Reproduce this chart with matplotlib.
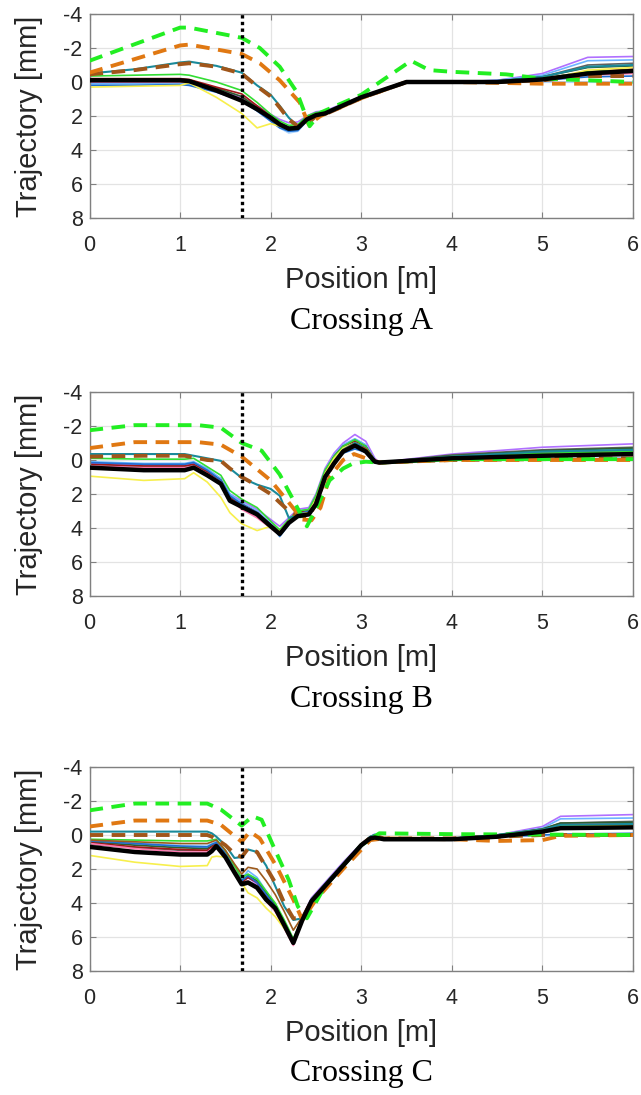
import numpy as np
import matplotlib
matplotlib.use("Agg")
import matplotlib.pyplot as plt

# Crossing A data (position in m, trajectory in mm).
x_a          = [0, 0.5, 1.0, 1.1, 1.4, 1.68, 1.85, 2.0, 2.1, 2.2, 2.3, 2.4, 2.5, 2.6, 3.0, 3.5, 4.0, 4.5, 5.0, 5.5, 6.0]
black_a      = [-0.1, -0.1, -0.1, -0.05, 0.5, 1.1, 1.6, 2.1, 2.5, 2.75, 2.7, 2.2, 1.95, 1.85, 0.9, 0.0, 0.0, 0.0, -0.15, -0.5, -0.65]
purple_a     = [0.0, 0.0, -0.05, 0.0, 0.4, 0.9, 1.4, 1.9, 2.2, 2.4, 2.35, 2.0, 1.75, 1.7, 0.85, 0.0, 0.0, -0.1, -0.5, -1.45, -1.5]
lightblue_a  = [0.1, 0.1, 0.05, 0.1, 0.5, 1.0, 1.6, 2.2, 2.6, 2.9, 2.85, 2.2, 1.9, 1.8, 0.9, 0.0, 0.0, -0.1, -0.4, -1.25, -1.3]
gray_a       = [-0.05, -0.05, -0.1, -0.05, 0.45, 1.0, 1.5, 2.0, 2.4, 2.65, 2.6, 2.1, 1.85, 1.8, 0.9, 0.0, 0.0, -0.05, -0.3, -1.0, -1.1]
green_a      = [-0.35, -0.4, -0.45, -0.4, 0.0, 0.5, 1.2, 1.9, 2.3, 2.55, 2.5, 2.0, 1.8, 1.75, 0.9, 0.0, 0.0, -0.05, -0.2, -0.6, -0.7]
pink_a       = [0.0, 0.0, 0.0, 0.05, 0.5, 1.0, 1.6, 2.2, 2.5, 2.8, 2.7, 2.2, 1.9, 1.85, 0.9, 0.0, 0.0, 0.0, -0.15, -0.4, -0.5]
darkred_a    = [-0.2, -0.2, -0.2, -0.15, 0.3, 0.7, 1.4, 2.0, 2.4, 2.7, 2.65, 2.1, 1.85, 1.8, 0.9, 0.0, 0.0, -0.05, -0.2, -0.6, -0.75]
darkgreen_a  = [-0.1, -0.1, -0.15, -0.1, 0.35, 0.85, 1.5, 2.1, 2.45, 2.7, 2.6, 2.1, 1.9, 1.85, 0.9, 0.0, 0.0, -0.05, -0.3, -0.85, -0.95]
blue_a       = [0.2, 0.2, 0.15, 0.2, 0.6, 1.1, 1.7, 2.3, 2.7, 2.9, 2.85, 2.3, 1.95, 1.85, 0.9, 0.0, 0.0, 0.0, -0.1, -0.3, -0.35]
paleblue_a   = [0.15, 0.15, 0.1, 0.15, 0.55, 1.1, 1.7, 2.3, 2.7, 3.0, 2.9, 2.3, 1.95, 1.85, 0.9, 0.0, 0.0, 0.0, 0.0, 0.0, 0.0]
yellow_a     = [0.3, 0.25, 0.2, 0.05, 0.9, 1.85, 2.7, 2.45, 2.6, 2.75, 2.7, 2.2, 1.95, 1.85, 0.9, 0.0, 0.0, 0.0, -0.1, -0.7, -0.85]
teal_a       = [-0.5, -0.75, -1.15, -1.2, -0.95, -0.55, 0.2, 0.75, 1.4, 2.1, 2.6, 2.3, 1.95, 1.85, 0.9, 0.0, 0.0, -0.05, -0.3, -0.9, -1.0]
brown_a      = [-0.45, -0.7, -1.05, -1.1, -0.9, -0.5, 0.25, 0.85, 1.5, 2.2, 2.6, 2.5, 2.0, 1.9, 0.95, 0.0, 0.0, 0.0, -0.1, -0.35, -0.35]
x_orange_a   = [0, 1.0, 1.1, 1.68, 1.88, 2.1, 2.32, 2.42, 2.55, 3.0, 3.5, 4.0, 5.0, 6.0]
orange_a     = [-0.55, -2.15, -2.2, -1.65, -1.1, -0.1, 1.2, 2.5, 2.0, 0.95, 0.0, 0.0, 0.1, 0.1]
x_lime_a     = [0, 1.0, 1.1, 1.68, 1.88, 2.1, 2.29, 2.43, 2.55, 3.0, 3.55, 3.75, 4.0, 4.6, 5.0, 6.0]
lime_a       = [-1.25, -3.2, -3.2, -2.6, -2.0, -0.9, 0.6, 2.6, 1.8, 0.75, -1.25, -0.7, -0.6, -0.45, -0.2, 0.0]

# Crossing B data.
x_b          = [0, 0.6, 1.05, 1.15, 1.3, 1.45, 1.55, 1.68, 1.85, 2.0, 2.1, 2.2, 2.3, 2.42, 2.5, 2.6, 2.7, 2.8, 2.93, 3.05, 3.15, 3.2, 4.0, 5.0, 6.0]
black_b      = [0.45, 0.6, 0.6, 0.45, 0.9, 1.4, 2.4, 2.75, 3.2, 3.9, 4.35, 3.7, 3.3, 3.2, 2.6, 1.0, 0.2, -0.5, -0.85, -0.5, 0.1, 0.15, -0.1, -0.25, -0.35]
purple_b     = [0.2, 0.3, 0.3, 0.2, 0.6, 1.1, 2.0, 2.4, 2.9, 3.5, 3.9, 3.4, 2.9, 2.8, 2.0, 0.5, -0.4, -1.0, -1.5, -1.1, -0.1, 0.15, -0.35, -0.75, -0.95]
lightblue_b  = [0.1, 0.2, 0.2, 0.1, 0.5, 1.1, 2.0, 2.5, 3.0, 3.7, 4.2, 3.6, 3.0, 2.9, 2.1, 0.6, -0.3, -0.9, -1.25, -0.9, 0.0, 0.15, -0.2, -0.45, -0.55]
gray_b       = [0.3, 0.4, 0.4, 0.3, 0.7, 1.2, 2.2, 2.6, 3.1, 3.8, 4.2, 3.6, 3.1, 3.0, 2.2, 0.7, -0.2, -0.8, -1.15, -0.8, 0.05, 0.15, -0.3, -0.6, -0.75]
green_b      = [-0.1, -0.05, -0.05, -0.1, 0.4, 0.9, 1.8, 2.3, 2.8, 3.6, 4.1, 3.5, 3.0, 2.9, 2.1, 0.6, -0.2, -0.8, -1.2, -0.8, 0.05, 0.15, -0.2, -0.4, -0.5]
pink_b       = [0.35, 0.45, 0.45, 0.35, 0.8, 1.3, 2.3, 2.9, 3.4, 4.0, 4.4, 3.7, 3.2, 3.1, 2.3, 0.8, -0.1, -0.7, -1.0, -0.7, 0.1, 0.15, -0.15, -0.3, -0.4]
darkred_b    = [0.25, 0.35, 0.35, 0.25, 0.7, 1.2, 2.2, 2.6, 3.1, 3.8, 4.3, 3.6, 3.1, 3.0, 2.2, 0.7, -0.2, -0.8, -1.1, -0.75, 0.05, 0.15, -0.2, -0.4, -0.5]
darkgreen_b  = [0.3, 0.4, 0.4, 0.3, 0.7, 1.2, 2.2, 2.6, 3.1, 3.8, 4.3, 3.6, 3.1, 3.0, 2.2, 0.7, -0.2, -0.8, -1.1, -0.8, 0.05, 0.15, -0.25, -0.55, -0.7]
blue_b       = [0.15, 0.25, 0.25, 0.15, 0.6, 1.2, 2.1, 2.6, 3.1, 3.8, 4.5, 3.8, 3.2, 3.0, 2.3, 0.9, 0.1, -0.4, -0.65, -0.45, 0.1, 0.15, 0.0, -0.05, -0.1]
paleblue_b   = [0.2, 0.3, 0.3, 0.2, 0.6, 1.2, 2.1, 2.6, 3.1, 3.8, 4.4, 3.7, 3.1, 3.0, 2.2, 0.7, -0.2, -0.7, -1.0, -0.7, 0.1, 0.15, 0.0, 0.0, -0.05]
yellow_b     = [0.95, 1.2, 1.1, 0.75, 1.3, 2.2, 3.1, 3.75, 4.15, 3.9, 4.2, 3.6, 3.2, 3.1, 2.3, 0.8, -0.1, -0.7, -1.0, -0.7, 0.05, 0.15, -0.15, -0.3, -0.4]
teal_b       = [-0.35, -0.35, -0.35, -0.25, -0.1, 0.05, 0.5, 1.05, 1.45, 1.7, 2.1, 3.4, 3.3, 3.2, 2.5, 1.0, 0.1, -0.6, -1.0, -0.7, 0.1, 0.15, -0.2, -0.5, -0.6]
brown_b      = [-0.2, -0.25, -0.25, -0.15, 0.0, 0.05, 0.5, 1.0, 1.5, 2.0, 2.5, 3.0, 3.3, 3.3, 2.6, 1.1, 0.2, -0.5, -0.9, -0.6, 0.1, 0.15, 0.0, -0.05, -0.1]
x_orange_b   = [0, 0.5, 1.2, 1.45, 1.68, 2.0, 2.2, 2.35, 2.45, 2.55, 2.65, 2.8, 2.92, 3.05, 3.2, 4.0, 6.0]
orange_b     = [-0.7, -1.05, -1.05, -0.9, -0.2, 1.2, 2.5, 3.5, 3.55, 2.8, 1.0, 0.0, -0.35, -0.1, 0.15, 0.0, 0.0]
x_lime_b     = [0, 0.5, 1.2, 1.45, 1.68, 1.9, 2.1, 2.25, 2.4, 2.51, 2.65, 2.8, 2.91, 3.05, 3.2, 4.0, 6.0]
lime_b       = [-1.75, -2.05, -2.05, -1.9, -1.0, -0.55, 0.85, 2.35, 3.9, 2.75, 1.2, 0.5, 0.2, 0.1, 0.15, -0.05, -0.05]

# Crossing C data.
x_c          = [0, 0.5, 1.0, 1.3, 1.35, 1.4, 1.5, 1.6, 1.68, 1.75, 1.85, 1.95, 2.05, 2.15, 2.25, 2.35, 2.45, 2.6, 2.8, 3.0, 3.1, 3.15, 3.25, 4.0, 4.5, 5.0, 5.2, 6.0]
black_c      = [0.7, 1.0, 1.15, 1.15, 0.95, 0.65, 1.3, 2.2, 2.9, 2.8, 3.1, 3.8, 4.3, 5.3, 6.35, 5.0, 3.9, 3.0, 1.8, 0.6, 0.2, 0.15, 0.25, 0.25, 0.1, -0.2, -0.4, -0.45]
purple_c     = [0.3, 0.5, 0.7, 0.75, 0.6, 0.45, 1.1, 2.0, 2.7, 2.5, 2.9, 3.6, 4.2, 5.2, 6.2, 4.8, 3.7, 2.8, 1.6, 0.5, 0.1, -0.05, 0.2, 0.2, 0.0, -0.5, -1.1, -1.2]
lightblue_c  = [0.4, 0.55, 0.7, 0.7, 0.55, 0.4, 1.0, 1.9, 2.6, 2.1, 2.5, 3.3, 4.1, 5.1, 6.2, 4.9, 3.8, 2.9, 1.7, 0.55, 0.1, -0.05, 0.2, 0.2, 0.0, -0.4, -0.95, -1.0]
gray_c       = [0.55, 0.75, 0.9, 0.9, 0.7, 0.55, 1.2, 2.1, 2.8, 2.7, 3.0, 3.6, 4.2, 5.2, 6.3, 5.0, 3.9, 3.0, 1.8, 0.6, 0.15, 0.05, 0.25, 0.2, 0.0, -0.35, -0.7, -0.8]
green_c      = [0.25, 0.3, 0.35, 0.35, 0.3, 0.25, 0.9, 1.8, 2.5, 2.3, 2.6, 3.3, 4.0, 5.0, 6.1, 4.9, 3.8, 2.9, 1.7, 0.55, 0.1, 0.0, 0.2, 0.2, 0.0, -0.3, -0.55, -0.6]
pink_c       = [0.5, 0.8, 1.0, 1.0, 0.8, 0.6, 1.3, 2.2, 2.9, 2.7, 3.2, 3.9, 4.5, 5.5, 6.5, 5.0, 3.9, 3.0, 1.8, 0.6, 0.15, 0.05, 0.25, 0.25, 0.05, -0.2, -0.5, -0.55]
darkred_c    = [0.45, 0.7, 0.85, 0.9, 0.7, 0.5, 1.2, 2.1, 2.8, 2.5, 2.8, 3.6, 4.3, 5.3, 6.3, 5.0, 3.9, 3.0, 1.8, 0.6, 0.15, 0.05, 0.25, 0.25, 0.05, -0.25, -0.6, -0.65]
darkgreen_c  = [0.4, 0.6, 0.75, 0.8, 0.65, 0.5, 1.1, 2.0, 2.7, 2.4, 2.7, 3.4, 4.1, 5.1, 6.2, 4.9, 3.8, 2.9, 1.7, 0.55, 0.1, 0.0, 0.2, 0.2, 0.0, -0.35, -0.7, -0.75]
blue_c       = [0.35, 0.5, 0.65, 0.7, 0.55, 0.45, 1.1, 2.0, 2.7, 2.4, 2.8, 3.5, 4.2, 5.2, 6.3, 5.0, 3.9, 3.0, 1.8, 0.6, 0.15, 0.05, 0.25, 0.25, 0.1, 0.0, -0.05, -0.1]
paleblue_c   = [0.3, 0.45, 0.6, 0.6, 0.5, 0.4, 1.0, 1.9, 2.6, 2.3, 2.7, 3.4, 4.1, 5.1, 6.2, 4.9, 3.8, 2.9, 1.7, 0.55, 0.1, 0.0, 0.2, 0.2, 0.1, 0.05, 0.0, 0.0]
brownthin_c  = [0.3, 0.4, 0.5, 0.5, 0.4, 0.3, 0.9, 1.7, 2.3, 1.9, 2.0, 2.7, 3.5, 4.5, 5.6, 4.8, 3.8, 2.9, 1.7, 0.55, 0.1, 0.0, 0.2, 0.2, 0.05, -0.2, -0.4, -0.45]
yellow_c     = [1.2, 1.6, 1.85, 1.8, 1.3, 1.25, 1.3, 2.0, 2.8, 3.4, 3.7, 4.3, 4.8, 5.5, 6.2, 5.0, 3.9, 3.0, 1.8, 0.6, 0.15, 0.05, 0.25, 0.25, 0.1, -0.2, -0.5, -0.55]
teal_c       = [-0.2, -0.2, -0.2, -0.2, -0.1, 0.1, 0.6, 1.35, 1.3, 0.85, 1.0, 1.8, 3.0, 4.2, 5.0, 4.9, 3.8, 2.9, 1.7, 0.55, 0.1, 0.0, 0.2, 0.2, 0.0, -0.3, -0.6, -0.65]
brown_c      = [0.0, 0.0, 0.0, 0.0, 0.1, 0.25, 0.6, 1.1, 1.3, 0.8, 1.0, 1.9, 2.8, 4.0, 4.9, 4.9, 3.9, 3.0, 1.8, 0.6, 0.15, 0.05, 0.2, 0.2, 0.1, 0.0, 0.0, 0.0]
x_orange_c   = [0, 0.5, 1.3, 1.45, 1.68, 1.77, 1.88, 2.07, 2.25, 2.35, 2.5, 2.8, 3.1, 3.25, 4.0, 4.5, 5.0, 5.2, 6.0]
orange_c     = [-0.5, -0.85, -0.85, -0.6, 0.4, -0.2, 0.2, 1.9, 3.8, 5.0, 3.8, 2.0, 0.3, 0.2, 0.25, 0.35, 0.3, 0.05, 0.0]
x_lime_c     = [0, 0.5, 1.3, 1.45, 1.68, 1.8, 1.9, 2.05, 2.2, 2.3, 2.4, 2.6, 2.8, 3.0, 3.2, 4.0, 6.0]
lime_c       = [-1.45, -1.85, -1.85, -1.5, -0.55, -1.1, -0.9, 0.9, 2.65, 4.2, 4.9, 3.0, 1.8, 0.6, -0.1, -0.05, 0.0]

# Position of the dotted marker line [m].
marker_position = 1.68

crossing_names = ["Crossing A", "Crossing B", "Crossing C"]
x_ticks        = [0, 1, 2, 3, 4, 5, 6]
y_ticks        = [-4, -2, 0, 2, 4, 6, 8]

# Thin line colours, in drawing order.
thin_colours = ["#aad4ff", "#b070ff", "#6cb4ff", "#606060", "#2e5e2e", "#a01818", "#ff78b0", "#1f6fd0", "#33dd33"]

panels = [
  dict(x=x_a, thin=[paleblue_a, purple_a, lightblue_a, gray_a, darkgreen_a, darkred_a, pink_a, blue_a, green_a],
       extra=None, yellow=yellow_a, teal=teal_a, brown=brown_a, black=black_a,
       x_orange=x_orange_a, orange=orange_a, x_lime=x_lime_a, lime=lime_a),
  dict(x=x_b, thin=[paleblue_b, purple_b, lightblue_b, gray_b, darkgreen_b, darkred_b, pink_b, blue_b, green_b],
       extra=None, yellow=yellow_b, teal=teal_b, brown=brown_b, black=black_b,
       x_orange=x_orange_b, orange=orange_b, x_lime=x_lime_b, lime=lime_b),
  dict(x=x_c, thin=[paleblue_c, purple_c, lightblue_c, gray_c, darkgreen_c, darkred_c, pink_c, blue_c, green_c],
       extra=brownthin_c, yellow=yellow_c, teal=teal_c, brown=brown_c, black=black_c,
       x_orange=x_orange_c, orange=orange_c, x_lime=x_lime_c, lime=lime_c),
]

plt.rcParams['font.family'] = ['Liberation Sans', 'DejaVu Sans']
plt.rcParams['axes.unicode_minus'] = False

fig = plt.figure(figsize=(6.41, 10.95), dpi=100)

# Axes boxes in figure pixels: left, top, right, bottom.
fig_w, fig_h = 641.0, 1095.0
boxes = [(89.5, 14, 633, 218), (89.5, 392, 633, 596), (89.5, 767, 633, 971)]

for i, p in enumerate(panels):
  l, t, r, b = boxes[i]
  ax = fig.add_axes([l/fig_w, 1 - b/fig_h, (r - l)/fig_w, (b - t)/fig_h])

  # Thin simulation lines.
  for ys, c in zip(p["thin"], thin_colours):
    ax.plot(p["x"], ys, color=c, lw=1.2, zorder=2)
  if p["extra"] is not None:
    ax.plot(p["x"], p["extra"], color="#9c5a1c", lw=1.2, zorder=2)
  ax.plot(p["x"], p["yellow"], color="#f7ef4c", lw=1.2, zorder=2)
  ax.plot(p["x"], p["teal"],   color="#1a8a9a", lw=1.5, zorder=3)

  # Dashed reference lines.
  ax.plot(p["x"], p["brown"], color="#a0561a", lw=2.8, ls=(0, (3.5, 2.2)), zorder=3)
  ax.plot(p["x_orange"], p["orange"], color="#e07812", lw=2.8, ls=(0, (3.5, 2.2)), zorder=3)
  ax.plot(p["x_lime"], p["lime"], color="#22ee22", lw=2.8, ls=(0, (3.5, 2.2)), zorder=3)

  # Mean trajectory.
  ax.plot(p["x"], p["black"], color="black", lw=3.2, zorder=4)

  ax.axvline(marker_position, color="black", lw=2.4, ls=(0, (1, 1)), zorder=5)

  # Style the axes, MATLAB look.
  ax.set_xlim(0, 6)
  ax.set_ylim(8, -4)
  ax.set_xticks(x_ticks)
  ax.set_yticks(y_ticks)
  ax.grid(True, color="#e3e3e3", lw=0.9)
  ax.set_axisbelow(True)
  for s in ax.spines.values():
    s.set_color("#808080")
    s.set_linewidth(1.0)
  ax.tick_params(direction="in", top=True, right=True, length=4, color="#808080",
                 labelsize=15.5, labelcolor="#262626")
  ax.tick_params(axis="y", pad=5)
  ax.tick_params(axis="x", pad=12)
  ax.set_ylabel("Trajectory [mm]", fontsize=21, color="#262626", va="center")
  ax.yaxis.set_label_coords(-60.5/(r - l), 0.5)
  ax.set_xlabel("Position [m]", fontsize=21, color="#262626", va="center")
  ax.xaxis.set_label_coords(0.5, -62.0/(b - t))
  ax.text(0.5, -103.0/(b - t), crossing_names[i], transform=ax.transAxes,
          ha="center", va="center", fontsize=23, family="Liberation Serif", color="black")

fig.savefig("out.png", dpi=100)
